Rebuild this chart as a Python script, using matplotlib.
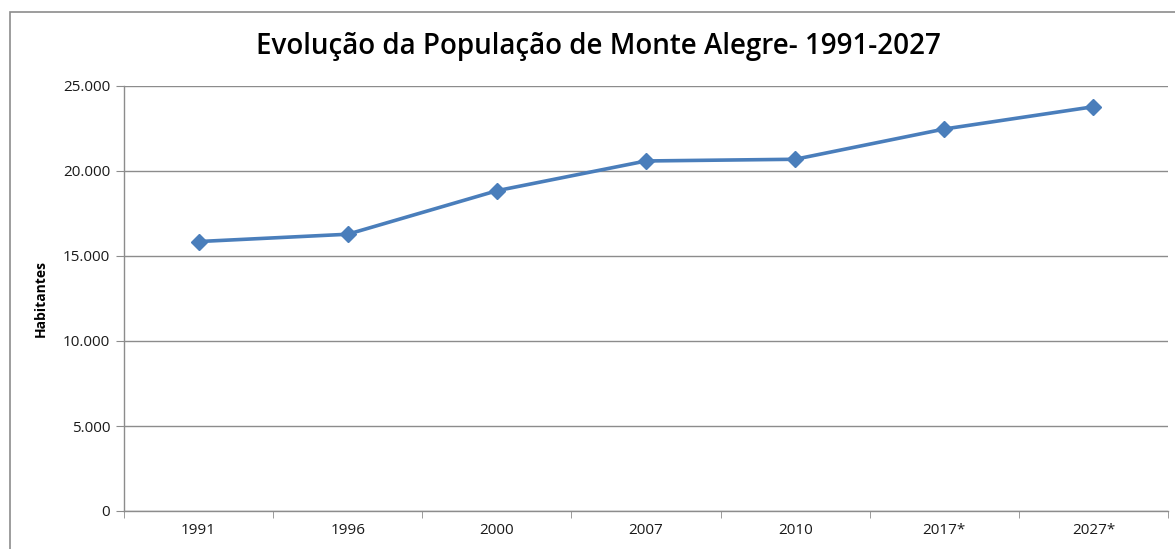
import matplotlib.pyplot as plt
import matplotlib.patches as patches
from matplotlib.ticker import FuncFormatter, FixedLocator

# data
anos = ['1991', '1996', '2000', '2007', '2010', '2017*', '2027*']
habitantes = [15850, 16280, 18840, 20590, 20690, 22470, 23780]

LINE_COLOR = '#4A7EBB'
GRID_COLOR = '#8C8C8C'

plt.rcParams['font.family'] = ['Open Sans', 'DejaVu Sans']

fig = plt.figure(figsize=(11.75, 5.49), dpi=100)
ax = fig.add_axes([124 / 1175, 38 / 549, 1044 / 1175, 425 / 549])

# outer chart border (runs off the right and bottom edges)
border = patches.Rectangle((10 / 1175, -0.1), 1.2, (537 / 549) + 0.1,
                           transform=fig.transFigure, fill=False,
                           edgecolor='#8C8C8C', linewidth=1.2, zorder=0)
fig.patches.append(border)

x = list(range(len(anos)))
ax.plot(x, habitantes, color=LINE_COLOR, linewidth=2.6, marker='D',
        markersize=8.5, markerfacecolor=LINE_COLOR, markeredgecolor=LINE_COLOR,
        zorder=3, clip_on=False)

ax.set_xlim(-0.5, len(anos) - 0.5)
ax.set_ylim(0, 25000)
ax.set_yticks(range(0, 25001, 5000))
ax.yaxis.set_major_formatter(FuncFormatter(lambda v, p: f'{int(v):,}'.replace(',', '.')))
ax.grid(axis='y', color=GRID_COLOR, linewidth=1)
ax.set_axisbelow(True)

ax.set_xticks(x)
ax.set_xticklabels(anos)
ax.xaxis.set_minor_locator(FixedLocator([i - 0.5 for i in range(len(anos) + 1)]))
ax.tick_params(axis='x', which='major', length=0, pad=9, labelsize=11, colors='#1a1a1a')
ax.tick_params(axis='x', which='minor', length=5, color=GRID_COLOR, direction='out')
ax.tick_params(axis='y', length=6, color=GRID_COLOR, pad=4, labelsize=11, labelcolor='#1a1a1a')

for s in ['top', 'right']:
    ax.spines[s].set_visible(False)
for s in ['left', 'bottom']:
    ax.spines[s].set_color(GRID_COLOR)
    ax.spines[s].set_linewidth(1)

ax.set_ylabel('Habitantes', fontsize=10, fontweight='bold')
ax.yaxis.set_label_coords(-0.073, 0.5)

fig.text(0.509, 0.915, 'Evolução da População de Monte Alegre- 1991-2027',
         ha='center', va='center', fontsize=20, fontweight='semibold',
         family=['Open Sans', 'DejaVu Sans'])

fig.savefig('out.png', dpi=100)
